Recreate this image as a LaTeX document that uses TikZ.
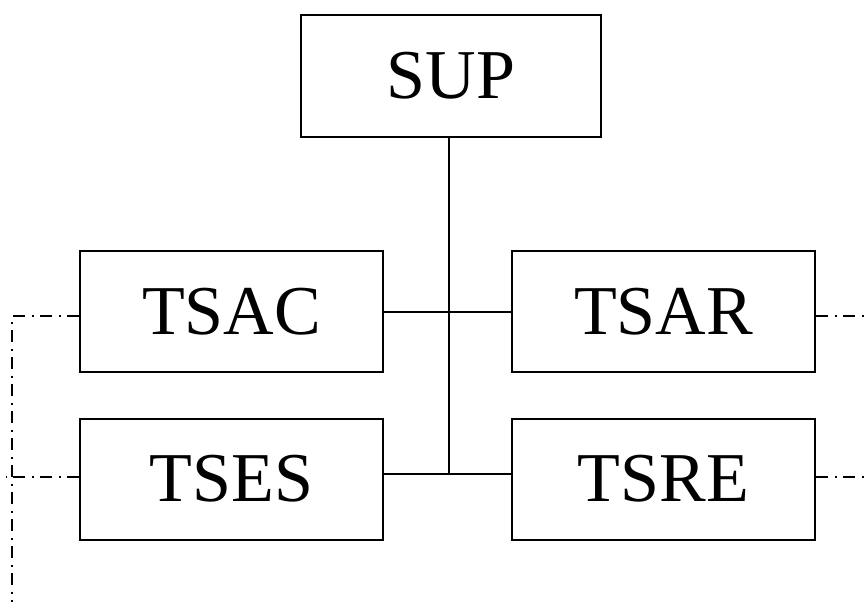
\documentclass[tikz,border=0pt]{standalone}
\usepackage{fontspec}
\setmainfont{Liberation Serif}
\begin{document}
\begin{tikzpicture}[x=1pt,y=-1pt,
  blk/.style={draw,line width=2pt,minimum width=303pt,minimum height=121pt,inner sep=0pt,font=\fontsize{70}{70}\selectfont},
  ln/.style={line width=2pt},
  dd/.style={line width=2pt,dash pattern=on 12pt off 6.5pt on 2pt off 6.5pt}]
\useasboundingbox (0,0) rectangle (865,602);
\node[blk,minimum width=300pt,minimum height=122pt] (sup) at (451,76) {\raisebox{-2pt}{SUP}};
\node[blk] (tsac) at (231.5,311.5) {\raisebox{-2pt}{TSAC}};
\node[blk] (tsar) at (663.5,311.5) {\raisebox{-2pt}{TSAR}};
\node[blk] (tses) at (231.5,479) {\raisebox{-2pt}{TSES}};
\node[blk] (tsre) at (663.5,479) {\raisebox{-2pt}{TSRE}};
\coordinate (bot) at (449,474);
\draw[ln] (sup.south -| bot) -- (bot);
\draw[ln] (tsac.east |- 0,312) -- (tsar.west |- 0,312);
\draw[ln] (tses.east |- bot) -- (tsre.west |- bot);
\coordinate (lc) at (12,316);
\coordinate (lb) at (12,602);
\coordinate (ls) at (6,477);
\coordinate (ra) at (865,316);
\coordinate (rb) at (865,477);
\draw[dd] (tsac.west |- lc) -- (lc) -- (lb);
\draw[dd] (tses.west |- ls) -- (ls);
\draw[dd] (tsar.east |- ra) -- (ra);
\draw[dd] (tsre.east |- rb) -- (rb);
\end{tikzpicture}
\end{document}
